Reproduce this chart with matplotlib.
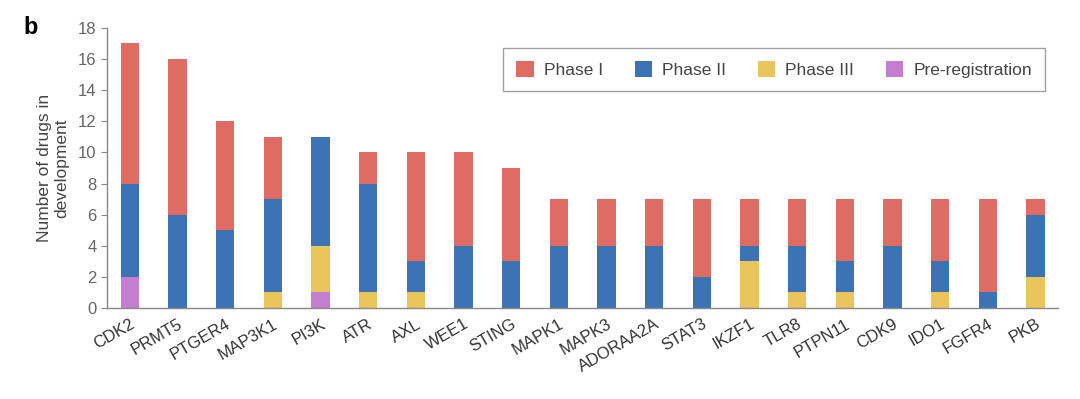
import matplotlib
matplotlib.use("Agg")
import matplotlib.pyplot as plt
import numpy as np

plt.rcParams['font.family'] = ['Liberation Sans', 'DejaVu Sans']

targets = ["CDK2", "PRMT5", "PTGER4", "MAP3K1", "PI3K", "ATR", "AXL", "WEE1", "STING",
           "MAPK1", "MAPK3", "ADORAA2A", "STAT3", "IKZF1", "TLR8", "PTPN11", "CDK9",
           "IDO1", "FGFR4", "PKB"]
pre_registration = [2, 0, 0, 0, 1, 0, 0, 0, 0, 0, 0, 0, 0, 0, 0, 0, 0, 0, 0, 0]
phase3 = [0, 0, 0, 1, 3, 1, 1, 0, 0, 0, 0, 0, 0, 3, 1, 1, 0, 1, 0, 2]
phase2 = [6, 6, 5, 6, 7, 7, 2, 4, 3, 4, 4, 4, 2, 1, 3, 2, 4, 2, 1, 4]
phase1 = [9, 10, 7, 4, 0, 2, 7, 6, 6, 3, 3, 3, 5, 3, 3, 4, 3, 4, 6, 1]
yticks = [0, 2, 4, 6, 8, 10, 12, 14, 16, 18]

c_p1 = "#df6c63"
c_p2 = "#3b73b5"
c_p3 = "#e9c55b"
c_pre = "#c47dd0"
gray = "#666666"

fig = plt.figure(figsize=(10.8, 3.99), dpi=100)
ax = fig.add_axes([0.099, 0.228, 0.881, 0.702])

x = np.arange(len(targets))
w = 0.38
pre = np.array(pre_registration)
p3 = np.array(phase3)
p2 = np.array(phase2)
p1 = np.array(phase1)
ax.bar(x, pre, w, color=c_pre, label="Pre-registration")
ax.bar(x, p3, w, bottom=pre, color=c_p3, label="Phase III")
ax.bar(x, p2, w, bottom=pre + p3, color=c_p2, label="Phase II")
ax.bar(x, p1, w, bottom=pre + p3 + p2, color=c_p1, label="Phase I")

ax.set_xlim(-0.48, len(targets) - 0.52)
ax.set_ylim(0, 18)
ax.set_yticks(yticks)
ax.set_xticks(x)
ax.set_xticklabels(targets, rotation=30, ha="right", rotation_mode="anchor",
                   fontsize=12, color="#333333")
ax.tick_params(axis="y", labelsize=12, labelcolor=gray, color="#888888", length=4)
ax.tick_params(axis="x", length=0, pad=6)
for s in ["top", "right"]:
    ax.spines[s].set_visible(False)
for s in ["left", "bottom"]:
    ax.spines[s].set_color("#888888")
    ax.spines[s].set_linewidth(1.0)

ax.set_ylabel("Number of drugs in\ndevelopment", fontsize=12.5, color="#444444",
              labelpad=6, multialignment="center")

handles, labels = ax.get_legend_handles_labels()
order = [3, 2, 1, 0]
leg = ax.legend([handles[i] for i in order], [labels[i] for i in order],
                loc="upper right", bbox_to_anchor=(0.995, 0.958), ncol=4, fontsize=12.5,
                frameon=True, fancybox=False, edgecolor="#888888",
                handlelength=1.0, handleheight=1.0, columnspacing=1.8,
                handletextpad=0.6, borderpad=0.75, labelcolor="#444444")
leg.get_frame().set_linewidth(1.0)

fig.text(0.022, 0.93, "b", fontsize=17, fontweight="bold", va="center")

fig.savefig("out.png", dpi=100)
